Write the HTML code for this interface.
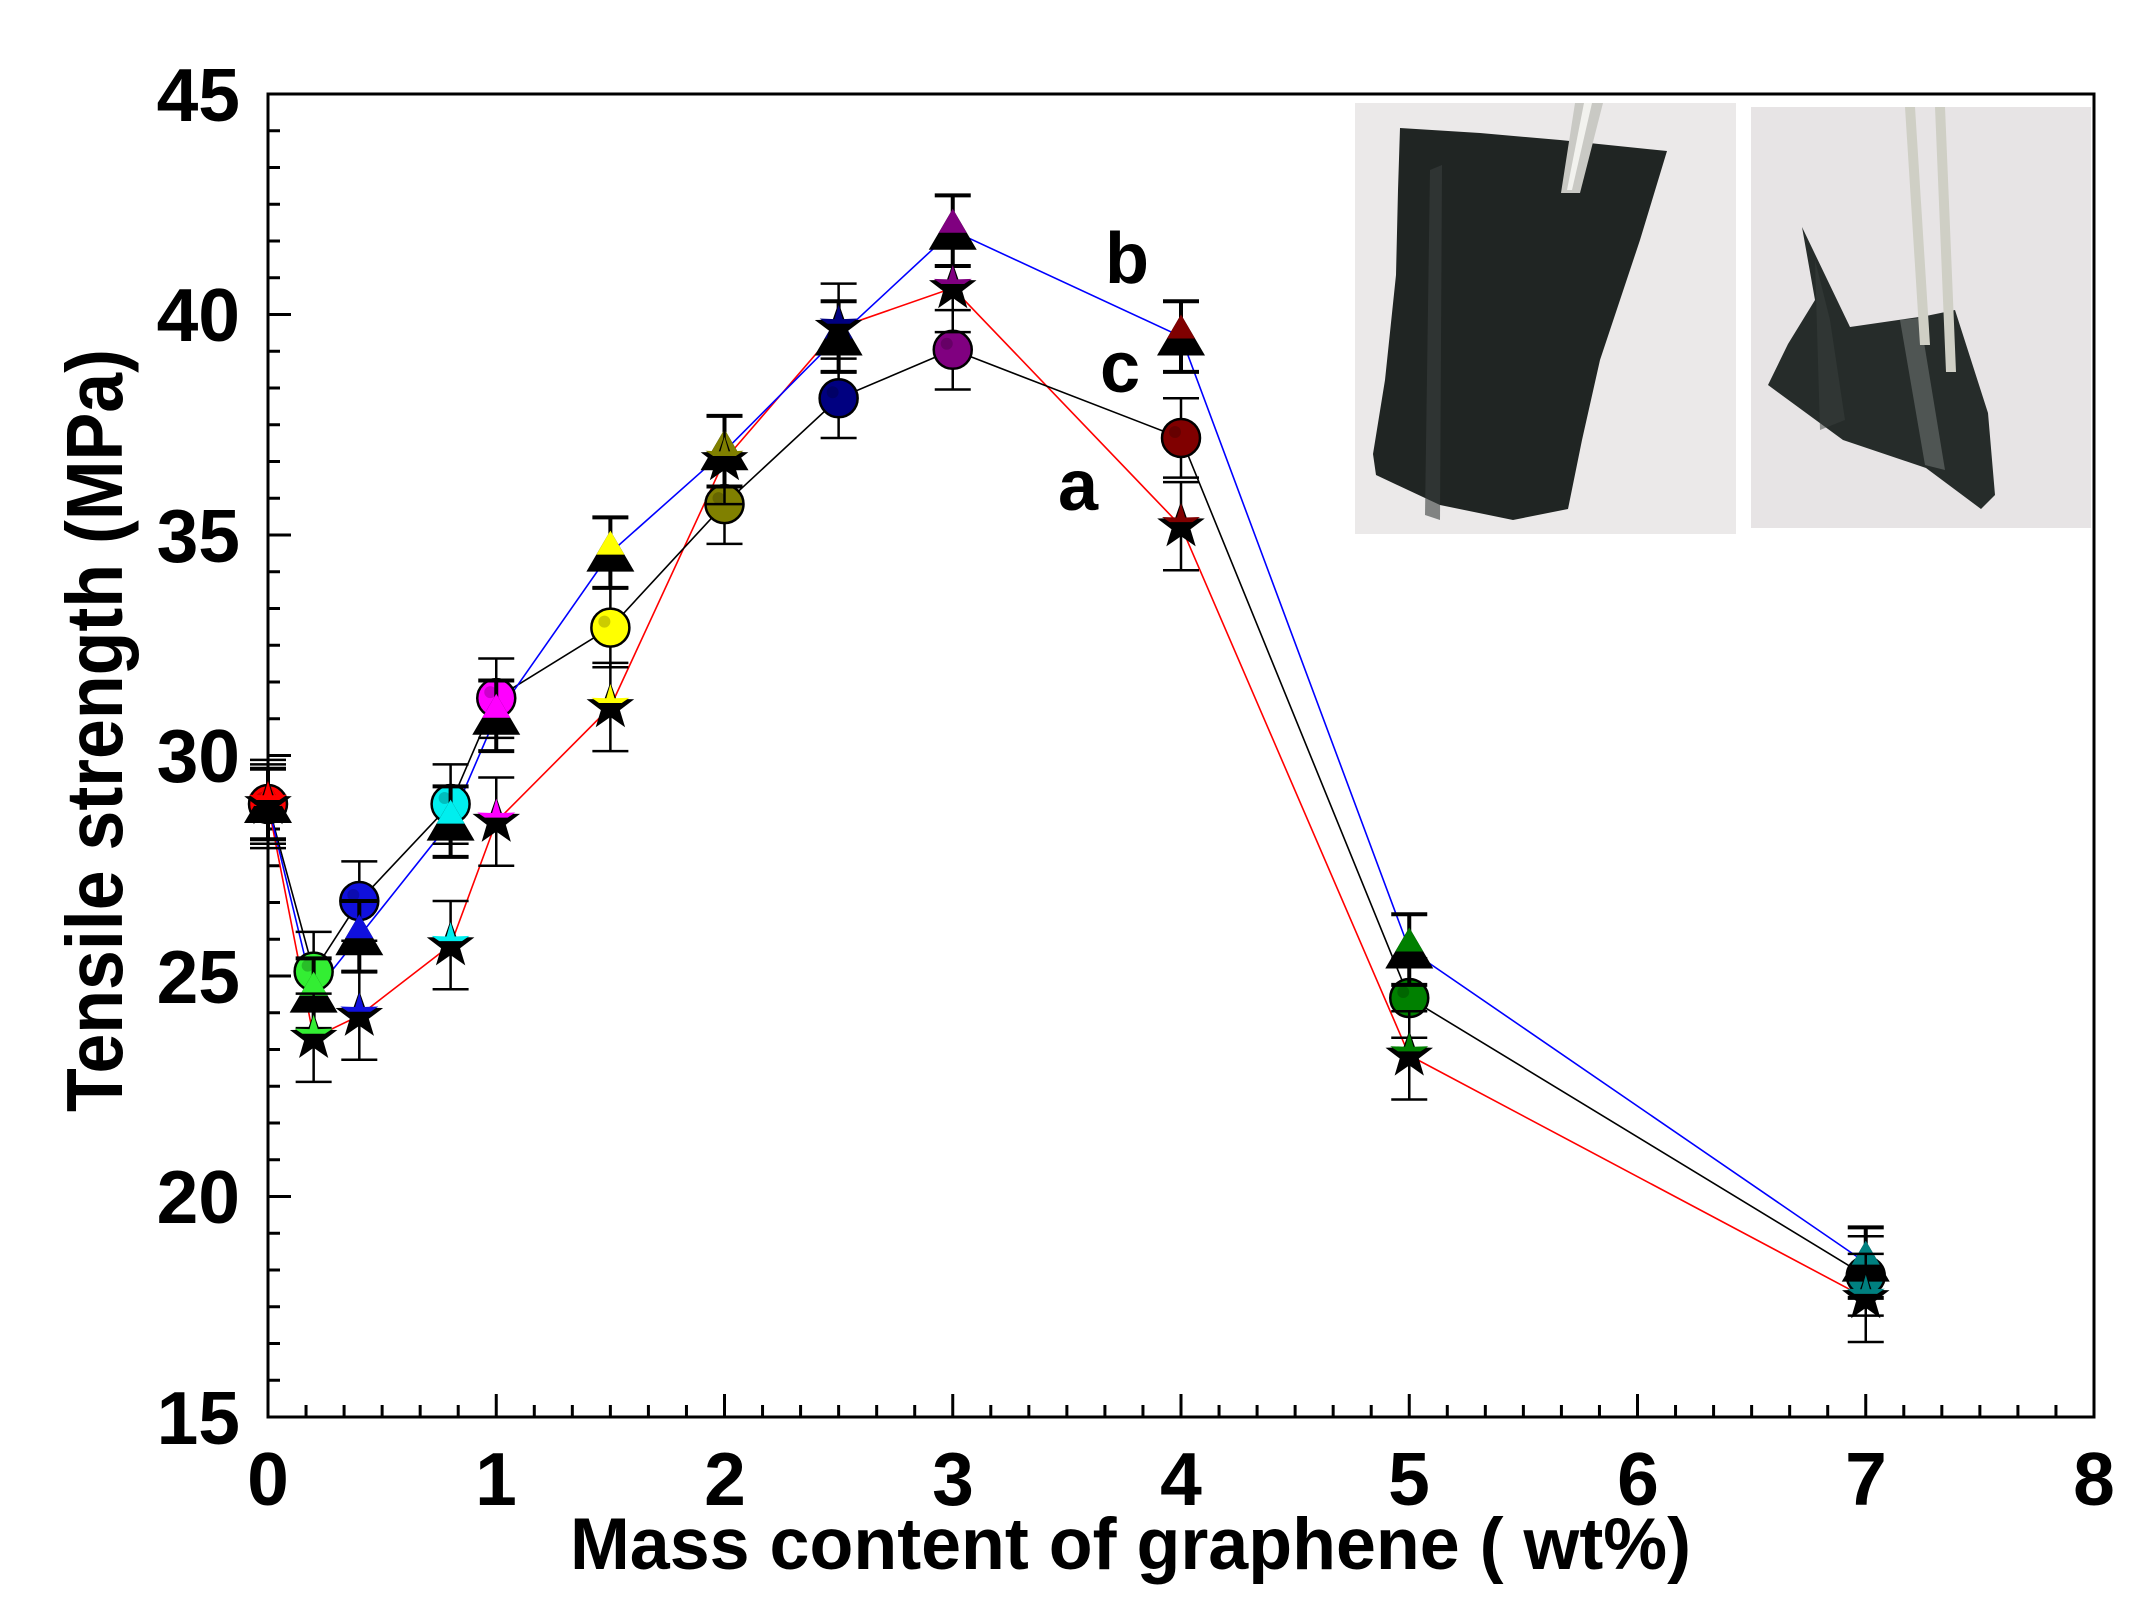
<!DOCTYPE html>
<html><head><meta charset="utf-8"><style>
html,body{margin:0;padding:0;background:#fff;}
svg{display:block;}
text{font-family:"Liberation Sans",Arial,sans-serif;font-weight:bold;fill:#000;}
</style></head><body>
<svg id="s" width="2146" height="1615" viewBox="0 0 2146 1615" xmlns="http://www.w3.org/2000/svg">
<rect width="2146" height="1615" fill="#fff"/>
<!-- inset photos -->
<g>
<rect x="1355" y="103" width="381" height="431" fill="#ebe9e9"/>
<polygon points="1400,128 1480,133 1560,140 1667,151 1640,240 1600,360 1582,440 1568,509 1513,520 1440,505 1376,475 1373,454 1385,380 1396,275 1398,190" fill="#202523"/>
<polygon points="1430,170 1442,165 1440,520 1425,515" fill="#3a403d" opacity="0.6"/>
<polygon points="1575,103 1603,103 1580,193 1561,193" fill="#c9c9c4"/>
<polygon points="1584,103 1592,103 1572,190 1567,190" fill="#f2f2ee"/>
<rect x="1751" y="107" width="340" height="421" fill="#e7e4e5"/>
<polygon points="1802,227 1850,327 1926,316 1955,310 1988,413 1995,495 1981,509 1926,468 1843,440 1768,385 1788,344 1815,300" fill="#262c2a"/>
<polygon points="1900,320 1920,318 1945,470 1925,465" fill="#6b7270" opacity="0.6"/>
<polygon points="1815,260 1830,320 1845,420 1820,430" fill="#3a403e" opacity="0.5"/>
<polygon points="1905,107 1915,107 1930,345 1920,345" fill="#cfcfc5"/>
<polygon points="1935,107 1945,107 1956,372 1946,372" fill="#cfcfc5"/>
</g>
<g id="frame" stroke="#000" stroke-width="3" fill="none">
<rect x="268" y="94" width="1826" height="1323"/>
</g>
<g id="ticks" stroke="#000" stroke-width="3"></g>
<g id="lines" fill="none" stroke-width="1.6"></g>
<g id="marks"></g>
<g font-size="75" text-anchor="end">
<text x="240" y="1444">15</text>
<text x="240" y="1223">20</text>
<text x="240" y="1003">25</text>
<text x="240" y="782">30</text>
<text x="240" y="562">35</text>
<text x="240" y="341">40</text>
<text x="240" y="121">45</text>
</g>
<g font-size="75" text-anchor="middle">
<text x="268" y="1505">0</text>
<text x="496" y="1505">1</text>
<text x="725" y="1505">2</text>
<text x="953" y="1505">3</text>
<text x="1181" y="1505">4</text>
<text x="1409" y="1505">5</text>
<text x="1638" y="1505">6</text>
<text x="1866" y="1505">7</text>
<text x="2094" y="1505">8</text>
</g>
<text x="570" y="1569" font-size="73" textLength="1121" lengthAdjust="spacingAndGlyphs">Mass content of graphene ( wt%)</text>
<text transform="translate(122,1112) rotate(-90)" font-size="80" textLength="763" lengthAdjust="spacingAndGlyphs">Tensile strength (MPa)</text>
<text x="1105" y="283" font-size="72">b</text>
<text x="1100" y="392" font-size="72">c</text>
<text x="1058" y="510" font-size="72">a</text>
</svg>
<script>
const NS="http://www.w3.org/2000/svg";
const X=v=>268+v*228.25, Y=v=>1417-(v-15)*44.1;
function el(p,t,a){const e=document.createElementNS(NS,t);for(const k in a)e.setAttribute(k,a[k]);p.appendChild(e);return e;}
const tk=document.getElementById('ticks');
for(let i=0;i<=48;i++){const x=268+i*1826/48;const L=i%6==0?23:12;el(tk,'line',{x1:x,y1:1417,x2:x,y2:1417-L});}
for(let i=0;i<=36;i++){const y=1417-i*1323/36;const L=i%6==0?23:12;el(tk,'line',{x1:268,y1:y,x2:268+L,y2:y});}
const xs=[0,0.2,0.4,0.8,1,1.5,2,2.5,3,4,5,7];
const cols=['#ff0000','#33ee33','#1010dd','#00eeee','#ff00ff','#ffff00','#808000','#000080','#800080','#800000','#008000','#008080'];
const A=[28.9,23.6,24.1,25.7,28.5,31.1,36.7,39.7,40.6,35.2,23.2,17.7];
const B=[28.9,24.6,25.9,28.5,30.9,34.6,36.9,39.5,41.9,39.5,25.6,18.5];
const C=[28.9,25.1,26.7,28.9,31.3,32.9,35.7,38.1,39.2,37.2,24.5,18.2];
const ln=document.getElementById('lines'),mk=document.getElementById('marks');
[[A,'#ff0000'],[C,'#000'],[B,'#0000ff']].forEach(([d,c])=>{el(ln,'polyline',{points:xs.map((x,i)=>X(x)+','+Y(d[i])).join(' '),stroke:c});});
function err(x,y,e,w){const y1=Y(y+e),y2=Y(y-e);el(mk,'line',{x1:x,y1:y1,x2:x,y2:y2,stroke:'#000','stroke-width':w});
el(mk,'line',{x1:x-18,y1:y1,x2:x+18,y2:y1,stroke:'#000','stroke-width':w});el(mk,'line',{x1:x-18,y1:y2,x2:x+18,y2:y2,stroke:'#000','stroke-width':w});}
function star(cx,cy,R,r){let p=[];for(let k=0;k<10;k++){const a=-Math.PI/2+k*Math.PI/5;const rr=k%2?r:R;p.push((cx+rr*Math.cos(a)).toFixed(1)+','+(cy+rr*Math.sin(a)).toFixed(1));}return p.join(' ');}
xs.forEach((x,i)=>{const cx=X(x);
 err(cx,C[i],0.9,2.5);
 el(mk,'circle',{cx:cx,cy:Y(C[i]),r:19,fill:cols[i],stroke:'#000','stroke-width':2.5});
 el(mk,'circle',{cx:cx-6,cy:Y(C[i])-6,r:6,fill:'#000',opacity:0.2});
 err(cx,B[i],0.8,4);
 const ty=Y(B[i]);
 el(mk,'polygon',{points:`${cx},${ty-22} ${cx+24},${ty+19} ${cx-24},${ty+19}`,fill:'#000'});
 el(mk,'polygon',{points:`${cx},${ty-22} ${cx+14},${ty+2} ${cx-14},${ty+2}`,fill:cols[i]});
 err(cx,A[i],1.0,2.5);
 const sy=Y(A[i]);
 el(mk,'polygon',{points:star(cx,sy,25,10),fill:'#000'});
 const cp=el(mk,'clipPath',{id:'cp'+i});el(cp,'rect',{x:cx-30,y:sy-30,width:60,height:26});
 el(mk,'polygon',{points:star(cx,sy-3,20,7),fill:cols[i],'clip-path':'url(#cp'+i+')'});
});
</script>
</body></html>
